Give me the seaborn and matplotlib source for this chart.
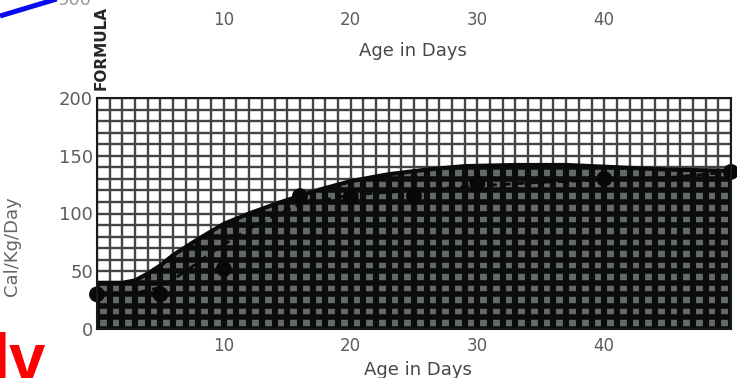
import matplotlib
matplotlib.use("Agg")
import matplotlib.pyplot as plt
from matplotlib.lines import Line2D
import numpy as np
import pandas as pd
import seaborn as sns

# Measured caloric intake (dots)
age_days = [0, 5, 10, 16, 20, 25, 30, 40, 50]
cal_per_kg = [30, 30, 52, 115, 114, 115, 126, 130, 136]

# Dashed trend through the measurements
trend_age = [0, 3, 5, 7, 9, 11, 13, 16, 20, 25, 30, 35, 40, 45, 50]
trend_cal = [30, 31, 36, 50, 66, 80, 93, 108, 116, 120, 124, 127, 129, 131, 136]

# Upper edge of the shaded formula band
band_age = [0, 2, 3, 4, 5, 6, 8, 10, 12, 14, 17, 20, 23, 26, 29, 33, 37, 41, 45, 50]
band_cal = [40, 40, 42, 48, 55, 64, 78, 91, 100, 108, 119, 128, 134, 138, 141, 142, 142, 140, 138, 137]

x_ticks = [10, 20, 30, 40]
y_ticks = [0, 50, 100, 150, 200]
top_label = "900"

sns.set_theme(style="white")
plt.rcParams["font.family"] = ["DejaVu Sans"]

W, H = 737, 378
fig = plt.figure(figsize=(W / 100, H / 100), dpi=100, facecolor="white")

# ---- main panel -------------------------------------------------------
ax = fig.add_axes([97 / W, 49 / H, 634 / W, 231 / H])
ax.set_xlim(0, 50)
ax.set_ylim(0, 200)

band = ax.fill_between(band_age, band_cal, 0, color="#626b66", lw=0, zorder=1)
band_path = band.get_paths()[0]

# graph-paper grid
grid_x = np.arange(0, 51, 1)
grid_y = np.arange(0, 201, 10)
ax.vlines(grid_x, 0, 200, color="#444444", lw=1.7, zorder=2)
ax.hlines(grid_y, 0, 50, color="#444444", lw=1.7, zorder=2)

# heavier grid inside the shaded band
vl = ax.vlines(grid_x, 0, 200, color="#0c0c0c", lw=4.4, zorder=3)
hl = ax.hlines(grid_y, 0, 50, color="#0c0c0c", lw=4.0, zorder=3)
vl.set_clip_path(band_path, ax.transData)
hl.set_clip_path(band_path, ax.transData)

band_df = pd.DataFrame({"age": band_age, "cal": band_cal})
sns.lineplot(data=band_df, x="age", y="cal", ax=ax, color="#0a0a0a", lw=3, zorder=4)

trend_df = pd.DataFrame({"age": trend_age, "cal": trend_cal})
sns.lineplot(data=trend_df, x="age", y="cal", ax=ax, color="#0a0a0a", lw=2,
             linestyle=(0, (3, 2)), zorder=5)

pts_df = pd.DataFrame({"age": age_days, "cal": cal_per_kg})
sns.scatterplot(data=pts_df, x="age", y="cal", ax=ax, color="#080808", s=130,
                edgecolor="none", zorder=6, clip_on=False)

for s in ax.spines.values():
    s.set_color("#1a1a1a")
    s.set_linewidth(1.5)
    s.set_zorder(7)

ax.set_xticks(x_ticks)
ax.set_xticklabels([str(t) for t in x_ticks])
ax.set_yticks(y_ticks)
ax.set_yticklabels([str(t) for t in y_ticks])
ax.tick_params(axis="x", length=0, pad=6, labelsize=12, labelcolor="#5c5c5c")
ax.tick_params(axis="y", length=0, pad=3, labelsize=13, labelcolor="#5c5c5c")

ax.set_xlabel("Age in Days", fontsize=13, color="#474747", va="top")
ax.xaxis.set_label_coords((418 - 97) / 634, (329 - 361) / 231)
ax.set_ylabel("Cal/Kg/Day", fontsize=13, color="#666666")
ax.yaxis.set_label_coords((21 - 97) / 634, (329 - 246) / 231)

# ---- upper panel (partially visible) -----------------------------------
ax_top = fig.add_axes([97 / W, (H - 5) / H, 634 / W, 0.2])
ax_top.set_facecolor("none")
ax_top.set_xlim(0, 50)
ax_top.set_xticks(x_ticks)
ax_top.set_xticklabels([str(t) for t in x_ticks])
ax_top.set_yticks([])
for s in ax_top.spines.values():
    s.set_visible(False)
ax_top.tick_params(axis="x", length=0, pad=4, labelsize=12, labelcolor="#5c5c5c")
ax_top.set_xlabel("Age in Days", fontsize=13, color="#474747", va="top")
ax_top.xaxis.set_label_coords((413 - 97) / 634, -(42 - 5) / (0.2 * H))

fig.text(92 / W, (H - 5) / H, top_label, ha="right", va="baseline",
         fontsize=13, color="#9a9a9a")
fig.text(101 / W, 1 - 48 / H, "FORMULA", rotation=90, ha="center", va="center",
         fontsize=11, fontweight="bold", color="#262626")

# blue annotation stroke
fig.add_artist(Line2D([0, 70 / W], [1 - 16 / H, 1 + 5 / H], color="#0a0af0",
                      lw=3.6, transform=fig.transFigure, solid_capstyle="butt"))

# red overlay lettering
fig.text(-9 / W, (H - 379) / H, "lv", ha="left", va="baseline", fontsize=47,
         fontweight="bold", color="#ff0000", family=["Liberation Sans", "DejaVu Sans"])

fig.savefig("out.png", dpi=100, facecolor="white")
